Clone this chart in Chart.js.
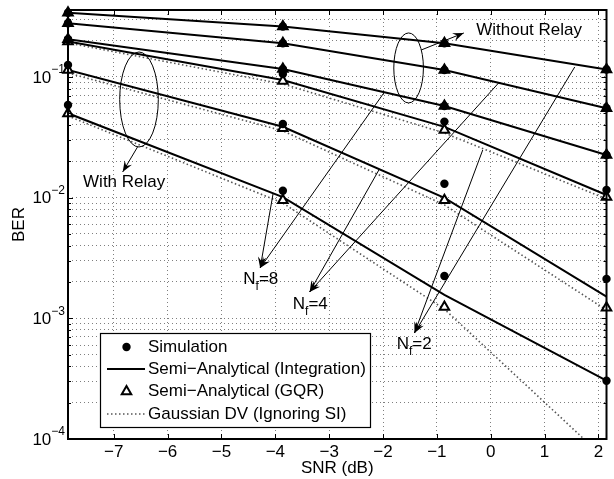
<!DOCTYPE html>
<html>
<head>
<meta charset="utf-8">
<script src="https://cdn.jsdelivr.net/npm/chart.js@4"></script>
<style>
html,body{margin:0;padding:0;background:#fff;}
#wrap{width:614px;height:479px;position:relative;}
</style>
</head>
<body>
<div id="wrap"><canvas id="c" width="614" height="479"></canvas></div>
<script>
// ---------- data ----------
const snr = [-7.85, -3.86, -0.86, 2.15];

// Semi-Analytical (Integration) – solid lines
const integNoRelayNf2 = [0.340, 0.261, 0.190, 0.115];
const integNoRelayNf4 = [0.278, 0.190, 0.114, 0.0550];
const integNoRelayNf8 = [0.205, 0.116, 0.0574, 0.0225];
const integRelayNf2   = [0.196, 0.0942, 0.0385, 0.0105];
const integRelayNf4   = [0.114, 0.0386, 0.00993, 0.00151];
const integRelayNf8   = [0.0499, 0.0101, 0.00156, 0.000304];

// Semi-Analytical (GQR) – triangles
const gqrNoRelayNf2 = [0.340, 0.261, 0.190, 0.115];
const gqrNoRelayNf4 = [0.278, 0.190, 0.114, 0.0550];
const gqrNoRelayNf8 = [0.205, 0.116, 0.0574, 0.0225];
const gqrRelayNf2   = [0.196, 0.0925, 0.0363, 0.0101];
const gqrRelayNf4   = [0.114, 0.0375, 0.0095, 0.00122];
const gqrRelayNf8   = [0.0497, 0.0095, 0.00124, null];

// Simulation – dots
const simNoRelayNf2 = [0.340, 0.261, 0.190, 0.115];
const simNoRelayNf4 = [0.278, 0.190, 0.114, 0.0550];
const simNoRelayNf8 = [0.205, 0.116, 0.0574, 0.0225];
const simRelayNf2   = [0.203, 0.1057, 0.0426, 0.01156];
const simRelayNf4   = [0.1256, 0.0407, 0.0130, 0.00212];
const simRelayNf8   = [0.0585, 0.0114, 0.00224, 0.000304];

// Gaussian DV (Ignoring SI) – dotted lines
const gaussRelayNf2 = [0.191, 0.0873, 0.0343, 0.00973];
const gaussRelayNf4 = [0.1076, 0.0357, 0.00869, 0.00117];
const gaussRelayNf8 = [0.0474, 0.00901, 0.00119, 0.000067];

// axes / ticks
const xTicks = [-7, -6, -5, -4, -3, -2, -1, 0, 1, 2];
const yTickExps = [-4, -3, -2, -1];
const xRange = [-7.85, 2.15];
const yRange = [1e-4, 0.358];

const legendLabels = ['Simulation', 'Semi\u2212Analytical (Integration)', 'Semi\u2212Analytical (GQR)', 'Gaussian DV (Ignoring SI)'];
const groupLabels = ['Without Relay', 'With Relay'];
const nfLabels = ['8', '4', '2'];

// ---------- styles ----------
const FONT = "'Liberation Sans', Arial, Helvetica, sans-serif";
const pts = arr => arr.map((v, i) => ({x: snr[i], y: v}));

const solid = d => ({data: pts(d), borderColor: '#000', borderWidth: 2, pointRadius: 0, tension: 0, fill: false, order: 2});
const gauss = d => ({data: pts(d), borderColor: '#555', borderWidth: 1.6, borderDash: [1.5, 2.5], pointRadius: 0, tension: 0, fill: false, order: 3});
const tri = d => ({data: pts(d), showLine: false, pointStyle: 'triangle', pointRadius: 5.5, pointBorderWidth: 2,
  pointBorderColor: '#000', pointBackgroundColor: '#fff', clip: false, order: 1});
const dot = d => ({data: pts(d), showLine: false, pointStyle: 'circle', pointRadius: 4.2, pointBorderWidth: 0,
  pointBorderColor: '#000', pointBackgroundColor: '#000', clip: false, order: 0});

const datasets = [
  gauss(gaussRelayNf2), gauss(gaussRelayNf4), gauss(gaussRelayNf8),
  solid(integNoRelayNf2), solid(integNoRelayNf4), solid(integNoRelayNf8),
  solid(integRelayNf2), solid(integRelayNf4), solid(integRelayNf8),
  tri(gqrNoRelayNf2), tri(gqrNoRelayNf4), tri(gqrNoRelayNf8),
  tri(gqrRelayNf2), tri(gqrRelayNf4), tri(gqrRelayNf8),
  dot(simNoRelayNf2), dot(simNoRelayNf4), dot(simNoRelayNf8),
  dot(simRelayNf2), dot(simRelayNf4), dot(simRelayNf8)
];

// annotation geometry in data units
const annot = {
  noRelayEllipse: {x0: -1.80, x1: -1.25, y0: 0.231, y1: 0.0608},
  noRelayArrow: {from: [-1.29, 0.167], to: [-0.50, 0.231]},
  noRelayText: {x: -0.27, y: 0.245},
  relayEllipse: {x0: -6.89, x1: -6.173, y0: 0.1607, y1: 0.02624},
  relayArrow: {from: [-6.559, 0.02624], to: [-6.835, 0.01629]},
  relayText: {x: -7.57, y: 0.0133},
  nf: [
    {tip: [-4.281, 0.002612], from: [[-1.985, 0.0736], [-4.043, 0.0107]], text: [-4.594, 0.00212]},
    {tip: [-3.363, 0.001652], from: [[0.1455, 0.0889], [-2.077, 0.01693]], text: [-3.675, 0.001312]},
    {tip: [-1.416, 0.000755], from: [[1.560, 0.1207], [-0.1485, 0.02477]], text: [-1.747, 0.000612]}
  ]
};

function arrowHead(ctx, x0, y0, x1, y1) {
  const a = Math.atan2(y1 - y0, x1 - x0);
  const L = 11, W = 4.2, N = 7;
  ctx.beginPath();
  ctx.moveTo(x1, y1);
  ctx.lineTo(x1 - L * Math.cos(a) + W * Math.sin(a), y1 - L * Math.sin(a) - W * Math.cos(a));
  ctx.lineTo(x1 - N * Math.cos(a), y1 - N * Math.sin(a));
  ctx.lineTo(x1 - L * Math.cos(a) - W * Math.sin(a), y1 - L * Math.sin(a) + W * Math.cos(a));
  ctx.closePath();
  ctx.fill();
}
function arrow(ctx, x0, y0, x1, y1) {
  ctx.beginPath(); ctx.moveTo(x0, y0); ctx.lineTo(x1, y1); ctx.stroke();
  arrowHead(ctx, x0, y0, x1, y1);
}

const matlabPlugin = {
  id: 'matlab',
  afterDatasetsDraw(chart) {
    const ctx = chart.ctx, xs = chart.scales.x, ys = chart.scales.y, ca = chart.chartArea;
    const X = v => xs.getPixelForValue(v), Y = v => ys.getPixelForValue(v);
    ctx.save();
    // frame
    ctx.strokeStyle = '#000'; ctx.lineWidth = 2; ctx.setLineDash([]);
    ctx.strokeRect(ca.left, ca.top, ca.right - ca.left, ca.bottom - ca.top);
    // inward ticks
    ctx.lineWidth = 1;
    ctx.beginPath();
    xTicks.forEach(v => {
      const px = Math.round(X(v)) + 0.5;
      ctx.moveTo(px, ca.bottom); ctx.lineTo(px, ca.bottom - 5);
      ctx.moveTo(px, ca.top); ctx.lineTo(px, ca.top + 5);
    });
    ys.ticks.forEach(t => {
      const m = Math.abs(Math.log10(t.value) - Math.round(Math.log10(t.value))) < 1e-6;
      const len = m ? 5 : 3;
      const py = Math.round(Y(t.value)) + 0.5;
      ctx.moveTo(ca.left, py); ctx.lineTo(ca.left + len, py);
      ctx.moveTo(ca.right, py); ctx.lineTo(ca.right - len, py);
    });
    ctx.stroke();

    // y tick labels 10^e
    ctx.fillStyle = '#000';
    yTickExps.forEach(e => {
      const py = Y(Math.pow(10, e));
      const base = '10', sup = '\u2212' + Math.abs(e);
      ctx.font = '17px ' + FONT; const wb = ctx.measureText(base).width;
      ctx.font = '12px ' + FONT; const ws = ctx.measureText(sup).width;
      const x0 = ca.left - 3 - wb - ws;
      ctx.textBaseline = 'middle'; ctx.textAlign = 'left';
      ctx.font = '17px ' + FONT; ctx.fillText(base, x0, py + 1);
      ctx.font = '12px ' + FONT; ctx.fillText(sup, x0 + wb, py - 7);
    });

    // annotations
    ctx.lineWidth = 1; ctx.strokeStyle = '#000'; ctx.fillStyle = '#000';
    [annot.noRelayEllipse, annot.relayEllipse].forEach(el => {
      const x0 = X(el.x0), x1 = X(el.x1), y0 = Y(el.y0), y1 = Y(el.y1);
      ctx.beginPath();
      ctx.ellipse((x0 + x1) / 2, (y0 + y1) / 2, Math.abs(x1 - x0) / 2, Math.abs(y1 - y0) / 2, 0, 0, Math.PI * 2);
      ctx.stroke();
    });
    [annot.noRelayArrow, annot.relayArrow].forEach(a => {
      arrow(ctx, X(a.from[0]), Y(a.from[1]), X(a.to[0]), Y(a.to[1]));
    });
    ctx.font = '17px ' + FONT; ctx.textBaseline = 'middle'; ctx.textAlign = 'left';
    ctx.fillText(groupLabels[0], X(annot.noRelayText.x), Y(annot.noRelayText.y));
    ctx.fillText(groupLabels[1], X(annot.relayText.x), Y(annot.relayText.y));

    annot.nf.forEach((n, i) => {
      const tx = X(n.tip[0]), ty = Y(n.tip[1]);
      n.from.forEach(f => arrow(ctx, X(f[0]), Y(f[1]), tx, ty));
      const lx = X(n.text[0]), ly = Y(n.text[1]);
      ctx.font = '17px ' + FONT;
      ctx.fillText('N', lx, ly);
      const wN = ctx.measureText('N').width;
      ctx.font = '12px ' + FONT;
      ctx.fillText('f', lx + wN, ly + 8);
      const wf = ctx.measureText('f').width;
      ctx.font = '17px ' + FONT;
      ctx.fillText('=' + nfLabels[i], lx + wN + wf, ly);
    });

    // legend
    const lg = {x: 100, y: 333, w: 270, h: 94};
    ctx.fillStyle = '#fff';
    ctx.fillRect(lg.x, lg.y, lg.w, lg.h);
    ctx.strokeStyle = '#000'; ctx.lineWidth = 1.2;
    ctx.strokeRect(lg.x + 0.5, lg.y + 0.5, lg.w, lg.h);
    const rows = [347, 369, 391.5, 414];
    const sx0 = 107, sx1 = 145, sc = 126.5, tx0 = 148;
    ctx.fillStyle = '#000';
    ctx.beginPath(); ctx.arc(sc, rows[0], 4.2, 0, Math.PI * 2); ctx.fill();
    ctx.lineWidth = 2; ctx.beginPath(); ctx.moveTo(sx0, rows[1]); ctx.lineTo(sx1, rows[1]); ctx.stroke();
    ctx.lineWidth = 2; ctx.beginPath();
    const r = 5.5;
    ctx.moveTo(sc, rows[2] - r); ctx.lineTo(sc + r * 0.866, rows[2] + r / 2); ctx.lineTo(sc - r * 0.866, rows[2] + r / 2); ctx.closePath();
    ctx.stroke();
    ctx.strokeStyle = '#555'; ctx.lineWidth = 1.6; ctx.setLineDash([1.5, 2.5]);
    ctx.beginPath(); ctx.moveTo(sx0, rows[3]); ctx.lineTo(sx1, rows[3]); ctx.stroke();
    ctx.setLineDash([]);
    ctx.font = '17px ' + FONT; ctx.textBaseline = 'middle'; ctx.textAlign = 'left'; ctx.fillStyle = '#000';
    legendLabels.forEach((t, i) => ctx.fillText(t, tx0, rows[i]));
    ctx.restore();
  }
};

const gridColor = 'rgba(0,0,0,0.5)';
new Chart(document.getElementById('c'), {
  type: 'line',
  data: {datasets},
  options: {
    responsive: false,
    devicePixelRatio: 1,
    animation: false,
    layout: {padding: {left: 0, right: 2, top: 10, bottom: 0}},
    plugins: {legend: {display: false}, tooltip: {enabled: false}},
    scales: {
      x: {
        type: 'linear', min: xRange[0], max: xRange[1],
        afterBuildTicks: s => { s.ticks = xTicks.map(v => ({value: v})); },
        afterFit: s => { s.height = 40; },
        ticks: {display: true, autoSkip: false, maxRotation: 0, padding: 3, color: '#000',
          font: {family: FONT, size: 17},
          callback: v => (v < 0 ? '\u2212' + Math.abs(v) : String(v))},
        grid: {drawTicks: false, color: gridColor, lineWidth: 1},
        border: {display: false, dash: [1, 3]},
        title: {display: true, text: 'SNR (dB)', color: '#000', font: {family: FONT, size: 17}, padding: {top: 0, bottom: 0}}
      },
      y: {
        type: 'logarithmic', min: yRange[0], max: yRange[1],
        afterBuildTicks: s => {
          const t = [];
          yTickExps.forEach(e => { for (let k = 1; k <= 9; k++) { const v = k * Math.pow(10, e); if (v <= yRange[1] * 1.0001) t.push({value: v}); } });
          s.ticks = t;
        },
        afterFit: s => { s.width = 68; },
        ticks: {display: false},
        grid: {drawTicks: false, color: gridColor, lineWidth: 1},
        border: {display: false, dash: [1, 3]},
        title: {display: true, text: 'BER', color: '#000', font: {family: FONT, size: 17}, padding: {top: 9, bottom: 0}}
      }
    }
  },
  plugins: [matlabPlugin]
});
</script>
</body>
</html>
